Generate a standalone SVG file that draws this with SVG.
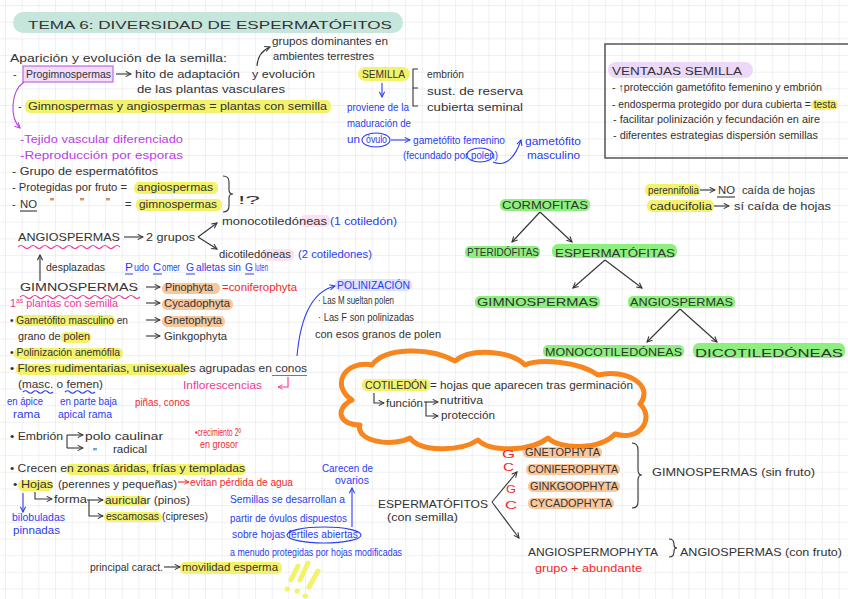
<svg xmlns="http://www.w3.org/2000/svg" width="848" height="599" viewBox="0 0 848 599">
<defs>
<pattern id="grid" x="5" y="5" width="16.67" height="16.67" patternUnits="userSpaceOnUse"><path d="M16.67 0 L0 0 0 16.67" fill="none" stroke="#e2e2e2" stroke-width="1"/></pattern>
<marker id="ak" viewBox="0 0 8 8" refX="7" refY="4" markerWidth="7" markerHeight="7" orient="auto" markerUnits="userSpaceOnUse"><path d="M1,1 L7,4 L1,7" fill="none" stroke="#333" stroke-width="1.2"/></marker>
<marker id="ab" viewBox="0 0 8 8" refX="7" refY="4" markerWidth="7" markerHeight="7" orient="auto" markerUnits="userSpaceOnUse"><path d="M1,1 L7,4 L1,7" fill="none" stroke="#2a3df0" stroke-width="1.2"/></marker>
<marker id="ap" viewBox="0 0 8 8" refX="7" refY="4" markerWidth="7" markerHeight="7" orient="auto" markerUnits="userSpaceOnUse"><path d="M1,1 L7,4 L1,7" fill="none" stroke="#b83ee6" stroke-width="1.2"/></marker>
<marker id="apk" viewBox="0 0 8 8" refX="7" refY="4" markerWidth="6" markerHeight="6" orient="auto" markerUnits="userSpaceOnUse"><path d="M1,1 L7,4 L1,7" fill="none" stroke="#f0389a" stroke-width="1.2"/></marker>
<marker id="ar" viewBox="0 0 8 8" refX="7" refY="4" markerWidth="6" markerHeight="6" orient="auto" markerUnits="userSpaceOnUse"><path d="M1,1 L7,4 L1,7" fill="none" stroke="#f02a2a" stroke-width="1.2"/></marker>
</defs>
<style>
text{font-family:"Liberation Sans",Arial,sans-serif;fill:#333;font-size:11px}
.b{fill:#2a3df0}.p{fill:#b83ee6}.pk{fill:#f0389a}.r{fill:#f02a2a}
.hy{fill:#f3f26c}.hg{fill:#8cef7e}.ho{fill:#f9c79c}.hp{fill:#ecd8f8}.hpk{fill:#fbe1ef}.hb{fill:#e0e1fd}
.lk{stroke:#333;stroke-width:1.1;fill:none}
.lb{stroke:#2a3df0;stroke-width:1.1;fill:none}
.wpk{stroke:#f0389a;stroke-width:1.1;fill:none}
</style>
<rect width="848" height="599" fill="#fff"/>
<rect width="848" height="599" fill="url(#grid)"/>

<g id="title">
<rect x="13" y="12" width="390" height="21" rx="10.5" fill="#c6e6dc"/>
<text x="28" y="29" font-size="18" textLength="364" lengthAdjust="spacingAndGlyphs">TEMA 6: DIVERSIDAD DE ESPERMATÓFITOS</text>
</g>

<g id="highlights">
<rect x="25" y="100" width="306" height="13" rx="5" class="hy"/>
<rect x="134" y="182" width="84" height="12" rx="5" class="hy"/>
<rect x="136" y="199" width="86" height="12" rx="5" class="hy"/>
<rect x="300" y="215" width="30" height="12" rx="5" class="hpk"/>
<rect x="262" y="249" width="32" height="12" rx="5" class="hpk"/>
<rect x="162" y="283" width="58" height="11" rx="5" class="ho"/>
<rect x="162" y="299" width="71" height="11" rx="5" class="ho"/>
<rect x="162" y="316" width="63" height="11" rx="5" class="ho"/>
<rect x="15" y="315" width="100" height="11" rx="5" class="hy"/>
<rect x="61" y="332" width="30" height="11" rx="5" class="hy"/>
<rect x="14" y="348" width="109" height="11" rx="5" class="hy"/>
<rect x="16" y="364" width="173" height="11" rx="5" class="hy"/>
<rect x="66" y="464" width="180" height="11" rx="5" class="hy"/>
<rect x="18" y="480" width="35" height="11" rx="5" class="hy"/>
<rect x="104" y="496" width="43" height="10" rx="5" class="hy"/>
<rect x="104" y="512" width="58" height="10" rx="5" class="hy"/>
<rect x="180" y="562" width="102" height="12" rx="5" class="hy"/>
<rect x="358" y="67" width="52" height="14" rx="7" class="hy"/>
<rect x="608" y="62" width="145" height="16" rx="8" class="hp"/>
<rect x="811" y="100" width="27" height="10" rx="5" class="hy"/>
<rect x="645" y="184" width="55" height="12" rx="5" class="hy"/>
<rect x="647" y="200" width="67" height="12" rx="5" class="hy"/>
<rect x="500" y="199" width="90" height="12" rx="5" class="hg"/>
<rect x="465" y="246" width="75" height="12" rx="5" class="hg"/>
<rect x="552" y="244" width="125" height="14" rx="6" class="hg"/>
<rect x="475" y="296" width="125" height="12" rx="5" class="hg"/>
<rect x="628" y="296" width="107" height="12" rx="5" class="hg"/>
<rect x="543" y="345" width="141" height="12" rx="5" class="hg"/>
<rect x="693" y="343" width="152" height="15" rx="6" class="hg"/>
<rect x="335" y="279" width="77" height="12" rx="5" class="hb"/>
<rect x="362" y="379" width="68" height="12" rx="5" class="hy"/>
<rect x="523" y="447" width="79" height="11" rx="5" class="ho"/>
<rect x="526" y="464" width="94" height="11" rx="5" class="ho"/>
<rect x="528" y="481" width="92" height="11" rx="5" class="ho"/>
<rect x="528" y="498" width="86" height="11" rx="5" class="ho"/>
</g>

<g id="aparicion">
<text x="10" y="62" font-size="13" textLength="217" lengthAdjust="spacingAndGlyphs">Aparición y evolución de la semilla:</text>
<text x="272" y="45" font-size="10.5" textLength="116" lengthAdjust="spacingAndGlyphs">grupos dominantes en</text>
<text x="273" y="60" font-size="10.5" textLength="101" lengthAdjust="spacingAndGlyphs">ambientes terrestres</text>
<rect x="23" y="66" width="90" height="16" fill="#f1ddf9" stroke="#b84ee0" stroke-width="1"/>
<text x="13" y="78" font-size="12">-</text>
<text x="26" y="78" font-size="12" textLength="85" lengthAdjust="spacingAndGlyphs">Progimnospermas</text>
<text x="135" y="78" font-size="12" textLength="105" lengthAdjust="spacingAndGlyphs">hito de adaptación</text>
<text x="252" y="78" font-size="12" textLength="63" lengthAdjust="spacingAndGlyphs">y evolución</text>
<text x="137" y="93" font-size="12" textLength="148" lengthAdjust="spacingAndGlyphs">de las plantas vasculares</text>
<text x="18" y="110" font-size="12">-</text>
<text x="28" y="110" font-size="12" textLength="299" lengthAdjust="spacingAndGlyphs">Gimnospermas y angiospermas = plantas con semilla</text>
<text class="p" x="20" y="143" font-size="12.5" textLength="163" lengthAdjust="spacingAndGlyphs">-Tejido vascular diferenciado</text>
<text class="p" x="20" y="159" font-size="12.5" textLength="163" lengthAdjust="spacingAndGlyphs">-Reproducción por esporas</text>
<text x="12" y="175" font-size="11.5" textLength="146" lengthAdjust="spacingAndGlyphs">- Grupo de espermatófitos</text>
<text x="12" y="191" font-size="11.5" textLength="115" lengthAdjust="spacingAndGlyphs">- Protegidas por fruto =</text>
<text x="137" y="191" font-size="11.5" textLength="76" lengthAdjust="spacingAndGlyphs">angiospermas</text>
<text x="12" y="208" font-size="11.5">-</text>
<text x="20" y="208" font-size="11.5" textLength="17" lengthAdjust="spacingAndGlyphs">NO</text>
<line x1="20" y1="211" x2="37" y2="211" class="lk"/>
<text x="50" y="206" font-size="10">"</text>
<text x="80" y="206" font-size="10">"</text>
<text x="106" y="206" font-size="10">"</text>
<text x="125" y="208" font-size="11.5">=</text>
<text x="139" y="208" font-size="11.5" textLength="78" lengthAdjust="spacingAndGlyphs">gimnospermas</text>
<path d="M223 176 Q229 176 229 182 L229 190 Q229 194 233 194 Q229 194 229 198 L229 206 Q229 212 223 212" class="lk"/>
<text x="238" y="204" font-size="15" textLength="22" lengthAdjust="spacingAndGlyphs">!?</text>
</g>

<g id="angiospermas">
<text x="18" y="241" font-size="12.5" textLength="102" lengthAdjust="spacingAndGlyphs">ANGIOSPERMAS</text>
<path d="M18 247 q3 -3 6 0 t6 0 t6 0 t6 0 t6 0 t6 0 t6 0 t6 0 t6 0 t6 0 t6 0 t6 0 t6 0 t6 0 t6 0 t6 0 t6 0" class="wpk"/>
<text x="146" y="241" font-size="12" textLength="49" lengthAdjust="spacingAndGlyphs">2 grupos</text>
<text x="222" y="225" font-size="11.5" textLength="105" lengthAdjust="spacingAndGlyphs">monocotiledóneas</text>
<text class="b" x="330" y="225" font-size="11" textLength="67" lengthAdjust="spacingAndGlyphs">(1 cotiledón)</text>
<text x="219" y="258" font-size="11.5" textLength="72" lengthAdjust="spacingAndGlyphs">dicotiledóneas</text>
<text class="b" x="298" y="258" font-size="11" textLength="74" lengthAdjust="spacingAndGlyphs">(2 cotiledones)</text>
<text x="46" y="271" font-size="11.5" textLength="59" lengthAdjust="spacingAndGlyphs">desplazadas</text>
<g id="mnemotecnia">
<text class="b" x="125" y="271" font-size="12" textLength="8" lengthAdjust="spacingAndGlyphs">P</text>
<text class="b" x="134" y="271" font-size="8" textLength="15" lengthAdjust="spacingAndGlyphs">udo</text>
<text class="b" x="153" y="271" font-size="12" textLength="8" lengthAdjust="spacingAndGlyphs">C</text>
<text class="b" x="162" y="271" font-size="8" textLength="18" lengthAdjust="spacingAndGlyphs">omer</text>
<text class="b" x="186" y="271" font-size="12" textLength="8" lengthAdjust="spacingAndGlyphs">G</text>
<text class="b" x="196" y="271" font-size="8" textLength="45" lengthAdjust="spacingAndGlyphs">alletas sin</text>
<text class="b" x="245" y="271" font-size="12" textLength="8" lengthAdjust="spacingAndGlyphs">G</text>
<text class="b" x="255" y="271" font-size="8" textLength="13" lengthAdjust="spacingAndGlyphs">luten</text>
<path d="M125 274 h8 M153 274 h9 M186 274 h9 M245 274 h9" class="lb"/>
</g>
</g>

<g id="gimnospermas">
<text x="20" y="291" font-size="12.5" textLength="118" lengthAdjust="spacingAndGlyphs">GIMNOSPERMAS</text>
<path d="M20 297 q3 -3 6 0 t6 0 t6 0 t6 0 t6 0 t6 0 t6 0 t6 0 t6 0 t6 0 t6 0 t6 0 t6 0 t6 0 t6 0 t6 0 t6 0 t6 0 t6 0 t6 0" class="wpk"/>
<text x="165" y="291" font-size="11.5" textLength="48" lengthAdjust="spacingAndGlyphs">Pinophyta</text>
<text class="r" x="222" y="291" font-size="12" textLength="75" lengthAdjust="spacingAndGlyphs">=coniferophyta</text>
<text class="pk" x="10" y="307" font-size="11" textLength="108" lengthAdjust="spacingAndGlyphs">1<tspan font-size="7" dy="-4">as</tspan><tspan dy="4"> plantas con semilla</tspan></text>
<text x="164" y="307" font-size="11.5" textLength="66" lengthAdjust="spacingAndGlyphs">Cycadophyta</text>
<text x="10" y="324" font-size="11" textLength="118" lengthAdjust="spacingAndGlyphs">• Gametófito masculino en</text>
<text x="164" y="324" font-size="11.5" textLength="58" lengthAdjust="spacingAndGlyphs">Gnetophyta</text>
<text x="18" y="340" font-size="11" textLength="72" lengthAdjust="spacingAndGlyphs">grano de polen</text>
<text x="164" y="340" font-size="11.5" textLength="63" lengthAdjust="spacingAndGlyphs">Ginkgophyta</text>
<text x="10" y="356" font-size="11" textLength="110" lengthAdjust="spacingAndGlyphs">• Polinización anemófila</text>
<text x="10" y="372" font-size="11.5" textLength="297" lengthAdjust="spacingAndGlyphs">• Flores rudimentarias, unisexuales agrupadas en conos</text>
<line x1="272" y1="375.5" x2="307" y2="375.5" stroke="#f0389a" stroke-width="1.1"/>
<text x="18" y="388" font-size="11.5" textLength="85" lengthAdjust="spacingAndGlyphs">(masc. o femen)</text>
<path d="M23 392 q2.5 -2.5 5 0 t5 0 t5 0 t5 0 t5 0 t5 0" class="lb"/>
<path d="M65 392 q2.5 -2.5 5 0 t5 0 t5 0 t5 0 t5 0 t5 0" class="lb"/>
<text class="pk" x="183" y="389" font-size="11.5" textLength="79" lengthAdjust="spacingAndGlyphs">Inflorescencias</text>
<text class="b" x="7" y="405" font-size="10" textLength="36" lengthAdjust="spacingAndGlyphs">en ápice</text>
<text class="b" x="13" y="418" font-size="10" textLength="27" lengthAdjust="spacingAndGlyphs">rama</text>
<text class="b" x="60" y="405" font-size="10" textLength="57" lengthAdjust="spacingAndGlyphs">en parte baja</text>
<text class="b" x="58" y="418" font-size="10" textLength="54" lengthAdjust="spacingAndGlyphs">apical rama</text>
<text class="r" x="135" y="406" font-size="9.5" textLength="55" lengthAdjust="spacingAndGlyphs">piñas, conos</text>
<text x="10" y="440" font-size="12.5" textLength="53" lengthAdjust="spacingAndGlyphs">• Embrión</text>
<text x="85" y="440" font-size="12.5" textLength="78" lengthAdjust="spacingAndGlyphs">polo caulinar</text>
<text x="93" y="456" font-size="10">"</text>
<text x="113" y="453" font-size="12.5" textLength="34" lengthAdjust="spacingAndGlyphs">radical</text>
<text class="r" x="195" y="436" font-size="8" textLength="46" lengthAdjust="spacingAndGlyphs">•crecimiento 2º</text>
<text class="r" x="200" y="448" font-size="8" textLength="38" lengthAdjust="spacingAndGlyphs">en grosor</text>
<text x="10" y="472" font-size="11.5" textLength="235" lengthAdjust="spacingAndGlyphs">• Crecen en zonas áridas, frías y templadas</text>
<text x="13" y="488" font-size="12" textLength="40" lengthAdjust="spacingAndGlyphs">• Hojas</text>
<text x="58" y="488" font-size="12" textLength="119" lengthAdjust="spacingAndGlyphs">(perennes y pequeñas)</text>
<text class="r" x="190" y="486" font-size="10" textLength="103" lengthAdjust="spacingAndGlyphs">evitan pérdida de agua</text>
<text class="b" x="12" y="521" font-size="10" textLength="53" lengthAdjust="spacingAndGlyphs">bilobuladas</text>
<text class="b" x="13" y="534" font-size="10" textLength="47" lengthAdjust="spacingAndGlyphs">pinnadas</text>
<text x="54" y="503" font-size="11.5" textLength="33" lengthAdjust="spacingAndGlyphs">forma</text>
<text x="105" y="504" font-size="11" textLength="85" lengthAdjust="spacingAndGlyphs">auricular (pinos)</text>
<text x="106" y="520" font-size="11" textLength="102" lengthAdjust="spacingAndGlyphs">escamosas (cipreses)</text>
<text x="90" y="571" font-size="11" textLength="73" lengthAdjust="spacingAndGlyphs">principal caract.</text>
<text x="182" y="571" font-size="11.5" textLength="96" lengthAdjust="spacingAndGlyphs">movilidad esperma</text>
<g stroke="#f3f26c" stroke-width="5" stroke-linecap="round" fill="none">
<path d="M298 566 L291 580 M308 563 L300 580 M318 571 L309 587"/>
<path d="M287 589 l0.5 0 M297 591 l0.5 0 M305 596 l0.5 0"/>
</g>
</g>

<g id="semilla">
<text x="362" y="78" font-size="10.5" textLength="43" lengthAdjust="spacingAndGlyphs">SEMILLA</text>
<path d="M418 69 L413 69 L413 106 L418 106 M413 88 L418 88" class="lk"/>
<text x="427" y="78" font-size="11" textLength="37" lengthAdjust="spacingAndGlyphs">embrión</text>
<text x="427" y="95" font-size="11" textLength="96" lengthAdjust="spacingAndGlyphs">sust. de reserva</text>
<text x="427" y="111" font-size="12" textLength="96" lengthAdjust="spacingAndGlyphs">cubierta seminal</text>
<text class="b" x="347" y="111" font-size="10" textLength="62" lengthAdjust="spacingAndGlyphs">proviene de la</text>
<text class="b" x="347" y="127" font-size="10" textLength="64" lengthAdjust="spacingAndGlyphs">maduración de</text>
<text class="b" x="347" y="143" font-size="10" textLength="13" lengthAdjust="spacingAndGlyphs">un</text>
<ellipse cx="376" cy="140" rx="14" ry="7" class="lb"/>
<text class="b" x="366" y="143" font-size="9" textLength="21" lengthAdjust="spacingAndGlyphs">óvulo</text>
<text class="b" x="413" y="144" font-size="11" textLength="92" lengthAdjust="spacingAndGlyphs">gametófito femenino</text>
<text class="b" x="403" y="159" font-size="8.5" textLength="95" lengthAdjust="spacingAndGlyphs">(fecundado por polen)</text>
<ellipse cx="480" cy="155" rx="13" ry="7" class="lb"/>
<text class="b" x="525" y="145" font-size="12.5" textLength="56" lengthAdjust="spacingAndGlyphs">gametófito</text>
<text class="b" x="527" y="159" font-size="12" textLength="53" lengthAdjust="spacingAndGlyphs">masculino</text>
</g>

<g id="ventajas">
<path d="M850 44 L605 44 L605 158 L850 158" fill="none" stroke="#555" stroke-width="1.5"/>
<text x="612" y="75" font-size="12.5" textLength="130" lengthAdjust="spacingAndGlyphs">VENTAJAS SEMILLA</text>
<text x="612" y="91" font-size="9.5" textLength="210" lengthAdjust="spacingAndGlyphs">- ↑protección gametófito femenino y embrión</text>
<text x="612" y="108" font-size="9.5" textLength="224" lengthAdjust="spacingAndGlyphs">- endosperma protegido por dura cubierta = testa</text>
<text x="613" y="123" font-size="9.5" textLength="207" lengthAdjust="spacingAndGlyphs">- facilitar polinización y fecundación en aire</text>
<text x="613" y="139" font-size="9.5" textLength="205" lengthAdjust="spacingAndGlyphs">- diferentes estrategias dispersión semillas</text>
</g>

<g id="hojas-caida">
<text x="648" y="194" font-size="10" textLength="51" lengthAdjust="spacingAndGlyphs">perennifolia</text>
<text x="718" y="194" font-size="11" textLength="17" lengthAdjust="spacingAndGlyphs">NO</text>
<line x1="717" y1="197" x2="735" y2="197" class="lk"/>
<text x="742" y="194" font-size="11" textLength="73" lengthAdjust="spacingAndGlyphs">caída de hojas</text>
<text x="650" y="210" font-size="11" textLength="62" lengthAdjust="spacingAndGlyphs">caducifolia</text>
<text x="734" y="210" font-size="11.5" textLength="97" lengthAdjust="spacingAndGlyphs">sí caída de hojas</text>
</g>

<g id="arbol">
<text x="502" y="209" font-size="12" textLength="86" lengthAdjust="spacingAndGlyphs">CORMOFITAS</text>
<text x="467" y="256" font-size="10.5" textLength="72" lengthAdjust="spacingAndGlyphs">PTERIDÓFITAS</text>
<text x="555" y="257" font-size="13" textLength="120" lengthAdjust="spacingAndGlyphs">ESPERMATÓFITAS</text>
<text x="477" y="306" font-size="12.5" textLength="121" lengthAdjust="spacingAndGlyphs">GIMNOSPERMAS</text>
<text x="630" y="306" font-size="12" textLength="103" lengthAdjust="spacingAndGlyphs">ANGIOSPERMAS</text>
<text x="545" y="356" font-size="11.5" textLength="137" lengthAdjust="spacingAndGlyphs">MONOCOTILEDÓNEAS</text>
<text x="695" y="357" font-size="16" textLength="148" lengthAdjust="spacingAndGlyphs">DICOTILEDÓNEAS</text>
</g>

<g id="polinizacion">
<text class="b" x="337" y="289" font-size="11" textLength="73" lengthAdjust="spacingAndGlyphs">POLINIZACIÓN</text>
<text x="318" y="304" font-size="9.5" textLength="76" lengthAdjust="spacingAndGlyphs">· Las M sueltan polen</text>
<text x="318" y="321" font-size="9.5" textLength="96" lengthAdjust="spacingAndGlyphs">· Las F son polinizadas</text>
<text x="315" y="338" font-size="9.5" textLength="126" lengthAdjust="spacingAndGlyphs">con esos granos de polen</text>
</g>

<g id="cotiledon">
<path d="M352 400 C330 385 345 360 372 365 C385 347 430 347 455 361 C470 348 510 350 525 365 C540 358 580 362 598 375 C625 368 655 385 640 404 C655 418 640 442 615 434 C600 450 560 450 548 438 C530 452 490 452 478 440 C460 452 420 452 410 438 C390 448 355 440 360 425 C338 425 335 408 352 400 Z" fill="none" stroke="#f7861f" stroke-width="5" stroke-linejoin="round"/>
<text x="365" y="389" font-size="11" textLength="62" lengthAdjust="spacingAndGlyphs">COTILEDÓN</text>
<text x="430" y="389" font-size="11.5" textLength="203" lengthAdjust="spacingAndGlyphs">= hojas que aparecen tras germinación</text>
<text x="386" y="407" font-size="11" textLength="37" lengthAdjust="spacingAndGlyphs">función</text>
<text x="440" y="404" font-size="9" textLength="43" lengthAdjust="spacingAndGlyphs">nutritiva</text>
<text x="441" y="419" font-size="9.5" textLength="54" lengthAdjust="spacingAndGlyphs">protección</text>
</g>

<g id="semillas-nota">
<text class="b" x="322" y="472" font-size="9" textLength="51" lengthAdjust="spacingAndGlyphs">Carecen de</text>
<text class="b" x="335" y="484" font-size="9" textLength="34" lengthAdjust="spacingAndGlyphs">ovarios</text>
<text class="b" x="230" y="503" font-size="10.5" textLength="115" lengthAdjust="spacingAndGlyphs">Semillas se desarrollan a</text>
<text class="b" x="230" y="522" font-size="10.5" textLength="117" lengthAdjust="spacingAndGlyphs">partir de óvulos dispuestos</text>
<text class="b" x="232" y="538" font-size="10.5" textLength="126" lengthAdjust="spacingAndGlyphs">sobre hojas fértiles abiertas</text>
<ellipse cx="324" cy="535" rx="37" ry="8" class="lb"/>
<text class="b" x="230" y="556" font-size="9.5" textLength="172" lengthAdjust="spacingAndGlyphs">a menudo protegidas por hojas modificadas</text>
</g>

<g id="espermatofitos">
<text x="378" y="508" font-size="12.5" textLength="110" lengthAdjust="spacingAndGlyphs">ESPERMATÓFITOS</text>
<text x="387" y="521" font-size="12" textLength="71" lengthAdjust="spacingAndGlyphs">(con semilla)</text>
<text class="r" x="502" y="458" font-size="14" textLength="13" lengthAdjust="spacingAndGlyphs">G</text>
<text class="r" x="503" y="471" font-size="14" textLength="11" lengthAdjust="spacingAndGlyphs">C</text>
<text class="r" x="506" y="493" font-size="13" textLength="10" lengthAdjust="spacingAndGlyphs">G</text>
<text class="r" x="505" y="509" font-size="15" textLength="12" lengthAdjust="spacingAndGlyphs">C</text>
<text x="525" y="456" font-size="10.5" textLength="75" lengthAdjust="spacingAndGlyphs">GNETOPHYTA</text>
<text x="528" y="473" font-size="10.5" textLength="90" lengthAdjust="spacingAndGlyphs">CONIFEROPHYTA</text>
<text x="530" y="490" font-size="10.5" textLength="88" lengthAdjust="spacingAndGlyphs">GINKGOOPHYTA</text>
<text x="530" y="507" font-size="10.5" textLength="82" lengthAdjust="spacingAndGlyphs">CYCADOPHYTA</text>
<path d="M632 443 Q638 443 638 450 L638 470 Q638 475 642 475 Q638 475 638 480 L638 502 Q638 508 632 508" class="lk"/>
<text x="652" y="476" font-size="12" textLength="163" lengthAdjust="spacingAndGlyphs">GIMNOSPERMAS (sin fruto)</text>
<text x="528" y="556" font-size="11.5" textLength="130" lengthAdjust="spacingAndGlyphs">ANGIOSPERMOPHYTA</text>
<path d="M669 539 Q674 539 674 544 L674 545 Q674 548 677 548 Q674 548 674 551 L674 552 Q674 557 669 557" class="lk"/>
<text x="680" y="556" font-size="12" textLength="162" lengthAdjust="spacingAndGlyphs">ANGIOSPERMAS (con fruto)</text>
<text class="r" x="535" y="572" font-size="11" textLength="107" lengthAdjust="spacingAndGlyphs">grupo + abundante</text>
</g>

<g id="connectors">
<path d="M257 66 Q258 52 270 47" class="lk" marker-end="url(#ak)"/>
<line x1="116" y1="74" x2="131" y2="74" class="lk" marker-end="url(#ak)"/>
<path d="M24 82 C10 92 10 118 20 128" fill="none" stroke="#b83ee6" stroke-width="1.1" marker-end="url(#ap)"/>
<line x1="124" y1="237" x2="143" y2="237" class="lk" marker-end="url(#ak)"/>
<line x1="198" y1="237" x2="217" y2="223" class="lk" marker-end="url(#ak)"/>
<line x1="198" y1="237" x2="217" y2="249" class="lk" marker-end="url(#ak)"/>
<line x1="40" y1="281" x2="40" y2="255" class="lk" marker-end="url(#ak)"/>
<line x1="146" y1="287" x2="160" y2="287" class="lk" marker-end="url(#ak)"/>
<line x1="146" y1="303" x2="160" y2="303" class="lk" marker-end="url(#ak)"/>
<line x1="146" y1="320" x2="160" y2="320" class="lk" marker-end="url(#ak)"/>
<line x1="146" y1="336" x2="160" y2="336" class="lk" marker-end="url(#ak)"/>
<path d="M288 377 L288 387 L278 387" fill="none" stroke="#f0389a" stroke-width="1.1" marker-end="url(#apk)"/>
<path d="M297 356 C300 322 310 292 335 286" class="lb" marker-end="url(#ab)"/>
<path d="M67 435 L67 448" class="lk"/>
<line x1="67" y1="435" x2="83" y2="435" class="lk" marker-end="url(#ak)"/>
<line x1="67" y1="448" x2="83" y2="448" class="lk" marker-end="url(#ak)"/>
<line x1="178" y1="482" x2="189" y2="482" stroke="#f02a2a" stroke-width="1.1" marker-end="url(#ar)"/>
<line x1="23" y1="493" x2="23" y2="512" class="lb" marker-end="url(#ab)"/>
<path d="M35 492 L35 499 L52 499" class="lk" marker-end="url(#ak)"/>
<path d="M87 500 L89 500 L89 516 L103 516" class="lk" marker-end="url(#ak)"/>
<line x1="89" y1="500" x2="103" y2="500" class="lk" marker-end="url(#ak)"/>
<line x1="164" y1="567" x2="180" y2="567" class="lk" marker-end="url(#ak)"/>
<line x1="382" y1="83" x2="382" y2="97" class="lb" marker-end="url(#ab)"/>
<line x1="391" y1="140" x2="410" y2="140" class="lb" marker-end="url(#ab)"/>
<path d="M493 162 C507 168 516 155 521 140" class="lb" marker-end="url(#ab)"/>
<line x1="700" y1="190" x2="715" y2="190" class="lk" marker-end="url(#ak)"/>
<line x1="714" y1="206" x2="729" y2="206" class="lk" marker-end="url(#ak)"/>
<line x1="540" y1="212" x2="512" y2="242" class="lk" marker-end="url(#ak)"/>
<line x1="540" y1="212" x2="572" y2="242" class="lk" marker-end="url(#ak)"/>
<line x1="605" y1="260" x2="573" y2="288" class="lk" marker-end="url(#ak)"/>
<line x1="605" y1="260" x2="642" y2="288" class="lk" marker-end="url(#ak)"/>
<line x1="680" y1="309" x2="647" y2="342" class="lk" marker-end="url(#ak)"/>
<line x1="680" y1="309" x2="717" y2="342" class="lk" marker-end="url(#ak)"/>
<path d="M374 393 L374 403 L384 403" class="lk" marker-end="url(#ak)"/>
<path d="M424 402 L426 402 L426 416 L438 416" class="lk" marker-end="url(#ak)"/>
<line x1="426" y1="402" x2="438" y2="402" class="lk" marker-end="url(#ak)"/>
<line x1="352" y1="527" x2="352" y2="488" class="lb" marker-end="url(#ab)"/>
<line x1="492" y1="502" x2="517" y2="472" class="lk" marker-end="url(#ak)"/>
<line x1="492" y1="502" x2="519" y2="538" class="lk" marker-end="url(#ak)"/>
</g>
</svg>
